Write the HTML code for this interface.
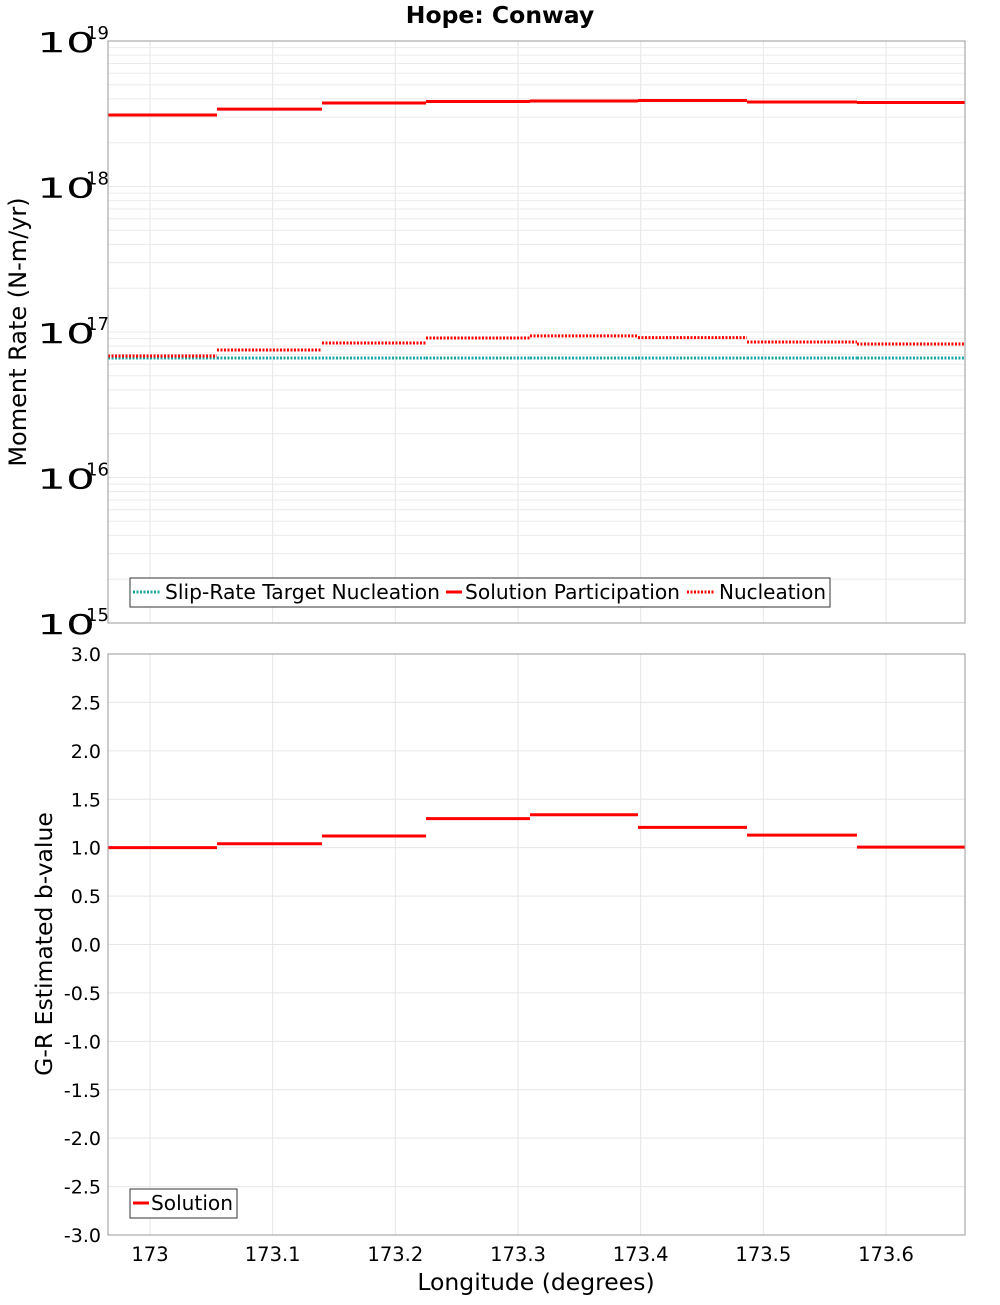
<!DOCTYPE html>
<html><head><meta charset="utf-8"><style>
body{margin:0;background:#fff;}
svg text{font-family:"DejaVu Sans","Liberation Sans",sans-serif;}
</style></head><body>
<svg id="chart" width="1000" height="1300" xmlns="http://www.w3.org/2000/svg"></svg>
<script>
const edges=[172.9658,173.0546,173.1402,173.225,173.3098,173.3978,173.4867,173.5763,173.6644];
const participation=[3.1e18,3.4e18,3.75e18,3.84e18,3.87e18,3.9e18,3.81e18,3.78e18];
const nucleation=[6.84e16,7.52e16,8.4e16,9.1e16,9.4e16,9.15e16,8.53e16,8.27e16];
const target=[6.63e16,6.63e16,6.63e16,6.63e16,6.63e16,6.63e16,6.63e16,6.63e16];
const bvalues=[1.0,1.04,1.12,1.30,1.34,1.21,1.13,1.005];
const xTicks=[173,173.1,173.2,173.3,173.4,173.5,173.6];
const bTicks=[-3,-2.5,-2,-1.5,-1,-0.5,0,0.5,1,1.5,2,2.5,3];
const logTicks=[15,16,17,18,19];

const NS="http://www.w3.org/2000/svg";
const svg=document.getElementById('chart');
const L=108,R=965,T1=41,B1=623,T2=654,B2=1235;
const X=v=>150+(v-173)*1226.7;
const Y1=v=>B1-(Math.log10(v)-15)*(B1-T1)/4;
const Y2=v=>B2-(v+3)*(B2-T2)/6;
function el(tag,a,parent){const e=document.createElementNS(NS,tag);for(const k in a)e.setAttribute(k,a[k]);(parent||svg).appendChild(e);return e;}
function txt(s,a){const e=el('text',a);e.textContent=s;return e;}

for(const [T,B] of [[T1,B1],[T2,B2]]){
  for(const t of xTicks){const g=el('line',{x1:X(t),x2:X(t),y1:T,y2:B,stroke:'#e6e6e6'});
  }
}
for(let d=15;d<19;d++)for(let m=1;m<10;m++){const y=Y1(m*Math.pow(10,d));
  const g=el('line',{x1:L,x2:R,y1:y,y2:y,stroke:'#ebebeb'});
  }
for(const t of bTicks){const y=Y2(t);const g=el('line',{x1:L,x2:R,y1:y,y2:y,stroke:'#e6e6e6'});
  
  const l=txt(t.toFixed(1),{x:101,y:y+7,'font-size':19,'text-anchor':'end'});
  }
for(const d of logTicks){const y=Y1(Math.pow(10,d));
  const t=txt('10',{x:37,y:y+11,'font-size':28,textLength:58,lengthAdjust:'spacingAndGlyphs'});
  const s=txt(String(d),{x:86,y:y-2,'font-size':18});}
for(const t of xTicks){const l=txt(String(t),{x:X(t),y:1261,'font-size':19.5,'text-anchor':'middle'});
  }

function steps(vals,Y,attrs,name){for(let i=0;i<vals.length;i++){
  const s=el('line',Object.assign({x1:X(edges[i]),x2:X(edges[i+1]),y1:Y(vals[i]),y2:Y(vals[i])},attrs));
  }}
steps(target,Y1,{stroke:'#1aa6a6','stroke-width':3,'stroke-dasharray':'2 1.5'},'target-nucleation-step');
steps(nucleation,Y1,{stroke:'#ff0000','stroke-width':3,'stroke-dasharray':'2 1.5'},'nucleation-step');
steps(participation,Y1,{stroke:'#ff0000','stroke-width':3},'participation-step');
steps(bvalues,Y2,{stroke:'#ff0000','stroke-width':3},'b-value-step');

for(const [T,B,n] of [[T1,B1,'moment-plot-frame'],[T2,B2,'b-value-plot-frame']]){
  const f=el('rect',{x:L,y:T,width:R-L,height:B-T,fill:'none',stroke:'#999'});
  }

let lg=el('rect',{x:130,y:578,width:700,height:29,fill:'#fff',stroke:'#333'});

const items=[[133,165,'#1aa6a6',true,'Slip-Rate Target Nucleation',275],[446,465,'#ff0000',false,'Solution Participation',215],[687,719,'#ff0000',true,'Nucleation',107]];
for(const [x0,tx,c,d,s,w] of items){
  const ln=el('line',{x1:x0,x2:x0+(d?28:16),y1:592,y2:592,stroke:c,'stroke-width':3,'stroke-dasharray':d?'2 1.5':'none'});
  
  const t=txt(s,{x:tx,y:599,'font-size':20,textLength:w,lengthAdjust:'spacingAndGlyphs'});}
lg=el('rect',{x:130,y:1189,width:107,height:29,fill:'#fff',stroke:'#333'});

let ln=el('line',{x1:133,x2:149,y1:1203,y2:1203,stroke:'#ff0000','stroke-width':3});

let t=txt('Solution',{x:151,y:1210,'font-size':20,textLength:82,lengthAdjust:'spacingAndGlyphs'});

t=txt('Hope: Conway',{x:500,y:23,'font-size':23.5,'font-weight':'bold','text-anchor':'middle'});

t=txt('Moment Rate (N-m/yr)',{x:0,y:0,'font-size':24,'text-anchor':'middle',transform:'translate(26,332) rotate(-90)'});

t=txt('G-R Estimated b-value',{x:0,y:0,'font-size':23.5,'text-anchor':'middle',transform:'translate(52,944) rotate(-90)'});

t=txt('Longitude (degrees)',{x:536,y:1290,'font-size':23.5,'text-anchor':'middle'});

</script>
</body></html>
